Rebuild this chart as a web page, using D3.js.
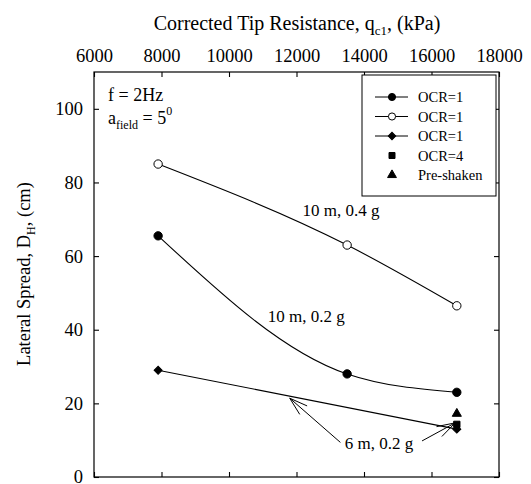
<!DOCTYPE html>
<html><head><meta charset="utf-8">
<script src="https://cdn.jsdelivr.net/npm/d3@7"></script>
<style>body{margin:0;background:#fff}svg{display:block}text{font-family:"Liberation Serif","Times New Roman",serif !important;fill:#000}</style>
</head><body>
<svg id="c" width="531" height="484" font-family="Liberation Serif"></svg>
<script>
// ---- data ----
const qcTicks = [6000, 8000, 10000, 12000, 14000, 16000, 18000];
const dTicks = [0, 20, 40, 60, 80, 100];
const qc10 = [7900, 13500, 16750];
const d10_04 = [85, 63, 46.5];     // OCR=1, open circles
const d10_02 = [65.5, 28, 23];     // OCR=1, filled circles
const qc6 = [7900, 16750];
const d6_02 = [29, 13];            // OCR=1, diamonds
const qcOcr4 = [16750];
const dOcr4 = [14.3];              // OCR=4, square
const qcPre = [16750];
const dPre = [17.2];               // Pre-shaken, triangle
const legendLabels = ["OCR=1", "OCR=1", "OCR=1", "OCR=4", "Pre-shaken"];

const svg = d3.select("#c");
const x = d3.scaleLinear().domain([6000, 18000]).range([94, 499]);
const y = d3.scaleLinear().domain([0, 110]).range([477, 72]);

// frame
svg.append("rect").attr("x", 94).attr("y", 72).attr("width", 405).attr("height", 405)
  .attr("fill", "none").attr("stroke", "#000").attr("stroke-width", 1.2);

function styleAxis(g){ g.attr("font-family","Liberation Serif").attr("font-size",18.5); g.select(".domain").remove(); g.selectAll("line").attr("stroke","#000").attr("stroke-width",1.1); g.selectAll("text").style("font-size","18.5px"); }
svg.append("g").attr("transform","translate(0,72)").call(d3.axisTop(x).tickValues(qcTicks).tickSize(-5).tickPadding(10).tickFormat(d3.format("d"))).call(styleAxis);
svg.append("g").attr("transform","translate(0,477)").call(d3.axisBottom(x).tickValues(qcTicks).tickSize(-5).tickFormat("")).call(styleAxis);
svg.append("g").attr("transform","translate(94,0)").call(d3.axisLeft(y).tickValues(dTicks).tickSize(-5).tickPadding(11)).call(styleAxis);
svg.append("g").attr("transform","translate(499,0)").call(d3.axisRight(y).tickValues(dTicks).tickSize(-5).tickFormat("")).call(styleAxis);

// titles
const t = svg.append("text").attr("x", 297).attr("y", 30).attr("text-anchor","middle").style("font-size","20px");
t.append("tspan").text("Corrected Tip Resistance, q");
t.append("tspan").attr("dy", 5).style("font-size","13px").text("c1");
t.append("tspan").attr("dy", -5).text(", (kPa)");

const yl = svg.append("text").attr("transform","translate(30,274) rotate(-90)").attr("text-anchor","middle").style("font-size","18.5px");
yl.append("tspan").text("Lateral Spread, D");
yl.append("tspan").attr("dy", 5).style("font-size","12px").text("H");
yl.append("tspan").attr("dy", -5).text(", (cm)");

// lines
const line = d3.line().x(d => x(d[0])).y(d => y(d[1])).curve(d3.curveMonotoneX);
const s04 = qc10.map((q,i)=>[q,d10_04[i]]);
const s02 = qc10.map((q,i)=>[q,d10_02[i]]);
const s6 = qc6.map((q,i)=>[q,d6_02[i]]);
[s04, s02, s6].forEach(s => svg.append("path").attr("d", line(s)).attr("fill","none").attr("stroke","#000").attr("stroke-width",1.1));

const sym = (type, size) => d3.symbol().type(type).size(size)();
function pts(data, type, size, fill, rot){
  svg.append("g").selectAll("path").data(data).join("path")
    .attr("transform", d => `translate(${x(d[0])},${y(d[1])}) rotate(${rot||0})`)
    .attr("d", sym(type,size)).attr("fill", fill).attr("stroke","#000").attr("stroke-width",1);
}
pts(qcOcr4.map((q,i)=>[q,dOcr4[i]]), d3.symbolSquare, 40, "#000");
pts(qcPre.map((q,i)=>[q,dPre[i]]), d3.symbolTriangle, 36, "#000");
pts(s6, d3.symbolSquare, 32, "#000", 45);
pts(s04, d3.symbolCircle, 55, "#fff");
pts(s02, d3.symbolCircle, 55, "#000");

// annotations
svg.append("text").attr("x", 108).attr("y", 101).style("font-size","18px").text("f = 2Hz");
const a = svg.append("text").attr("x", 108).attr("y", 124).style("font-size","18px");
a.append("tspan").text("a");
a.append("tspan").attr("dy", 5).style("font-size","12px").text("field");
a.append("tspan").attr("dy", -5).text(" = 5");
a.append("tspan").attr("dy", -9).style("font-size","12px").text("0");

svg.append("text").attr("x", x(12180)).attr("y", y(70.9)).style("font-size","17px").text("10 m, 0.4 g");
svg.append("text").attr("x", x(11150)).attr("y", y(42.2)).style("font-size","17px").text("10 m, 0.2 g");
svg.append("text").attr("x", x(13430)).attr("y", y(7.6)).style("font-size","17px").text("6 m, 0.2 g");

function arrow(x0,y0,x1,y1){
  const X0=x(x0),Y0=y(y0),X1=x(x1),Y1=y(y1);
  svg.append("line").attr("x1",X0).attr("y1",Y0).attr("x2",X1).attr("y2",Y1).attr("stroke","#000").attr("stroke-width",1);
  const ang=Math.atan2(Y0-Y1,X0-X1), L=19, w=0.3;
  [ang-w, ang+w].forEach(a2=>svg.append("line").attr("x1",X1).attr("y1",Y1).attr("x2",X1+L*Math.cos(a2)).attr("y2",Y1+L*Math.sin(a2)).attr("stroke","#000").attr("stroke-width",1));
}
arrow(13300, 9.4, 11800, 21.4);
arrow(15720, 9.8, 16700, 14.7);

// legend
svg.append("rect").attr("x",362).attr("y",75).attr("width",134).attr("height",121).attr("fill","#fff").attr("stroke","#000").attr("stroke-width",1);
const ly = d3.scalePoint().domain(d3.range(legendLabels.length)).range([97, 175]);
const lt = [[d3.symbolCircle,"#000",true,40,0],[d3.symbolCircle,"#fff",true,40,0],[d3.symbolSquare,"#000",true,28,45],[d3.symbolSquare,"#000",false,36,0],[d3.symbolTriangle,"#000",false,34,0]];
legendLabels.forEach((lab,i)=>{
  const yy = ly(i);
  if (lt[i][2]) svg.append("line").attr("x1",375).attr("x2",408).attr("y1",yy).attr("y2",yy).attr("stroke","#000").attr("stroke-width",1);
  svg.append("path").attr("transform",`translate(392,${yy}) rotate(${lt[i][4]})`).attr("d",sym(lt[i][0],lt[i][3])).attr("fill",lt[i][1]).attr("stroke","#000").attr("stroke-width",1);
  svg.append("text").attr("x",418).attr("y",yy+5).style("font-size","14.5px").text(lab);
});
</script>
</body></html>
